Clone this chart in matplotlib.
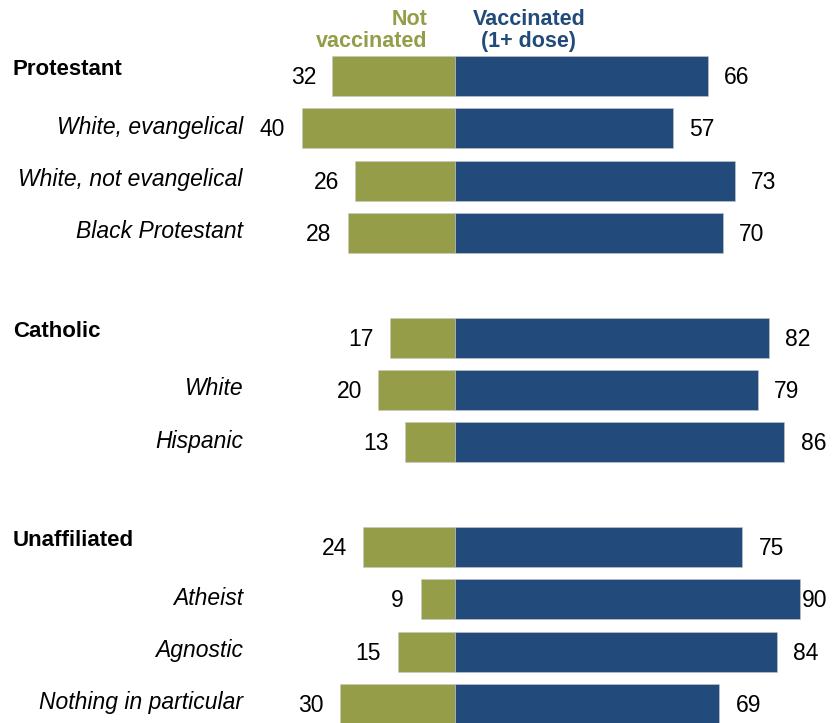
import matplotlib.pyplot as plt

# rows of the chart, top to bottom (None = empty spacer row)
labels = ['Protestant', 'White, evangelical', 'White, not evangelical', 'Black Protestant',
          None,
          'Catholic', 'White', 'Hispanic',
          None,
          'Unaffiliated', 'Atheist', 'Agnostic', 'Nothing in particular']
is_group = [True, False, False, False, None, True, False, False, None, True, False, False, False]
not_vaccinated = [32, 40, 26, 28, None, 17, 20, 13, None, 24, 9, 15, 30]
vaccinated = [66, 57, 73, 70, None, 82, 79, 86, None, 75, 90, 84, 69]

green = '#959D48'
blue = '#224B7B'

plt.rcParams['font.family'] = ['Liberation Sans', 'DejaVu Sans']

fig = plt.figure(figsize=(8.35, 7.23), dpi=100)
ax = fig.add_axes([0, 0, 1, 1])
ax.set_xlim(-118.8, 99.2)
ax.set_ylim(12.364, -1.452)
ax.axis('off')

bar_h = 0.765
for i, lab in enumerate(labels):
    if lab is None:
        continue
    nv = not_vaccinated[i]
    v = vaccinated[i]
    ax.barh(i, -nv, height=bar_h, color=green, edgecolor='#c8c8c8', linewidth=0.4)
    ax.barh(i, v, height=bar_h, color=blue, edgecolor='#c8c8c8', linewidth=0.4)
    ax.text(-nv - 4.3, i + 0.03, str(nv), ha='right', va='center', fontsize=16.5, color='black')
    ax.text(min(v + 4.2, 90.6), i + 0.03, str(v), ha='left', va='center', fontsize=16.5, color='black')
    if is_group[i]:
        ax.text(-115.5, i - 0.12, lab, ha='left', va='center', fontsize=16,
                fontweight='bold')
    else:
        ax.text(-55.4, i - 0.02, lab, ha='right', va='center', fontsize=16.5,
                style='italic')

ax.text(-7.3, -0.87, 'Not\nvaccinated', ha='right', va='center', multialignment='right',
        fontsize=15.5, fontweight='bold', color=green, linespacing=1.1)
ax.text(19.3, -0.87, 'Vaccinated\n(1+ dose)', ha='center', va='center', multialignment='center',
        fontsize=15.5, fontweight='bold', color=blue, linespacing=1.1)

fig.savefig('out.png', dpi=100)
